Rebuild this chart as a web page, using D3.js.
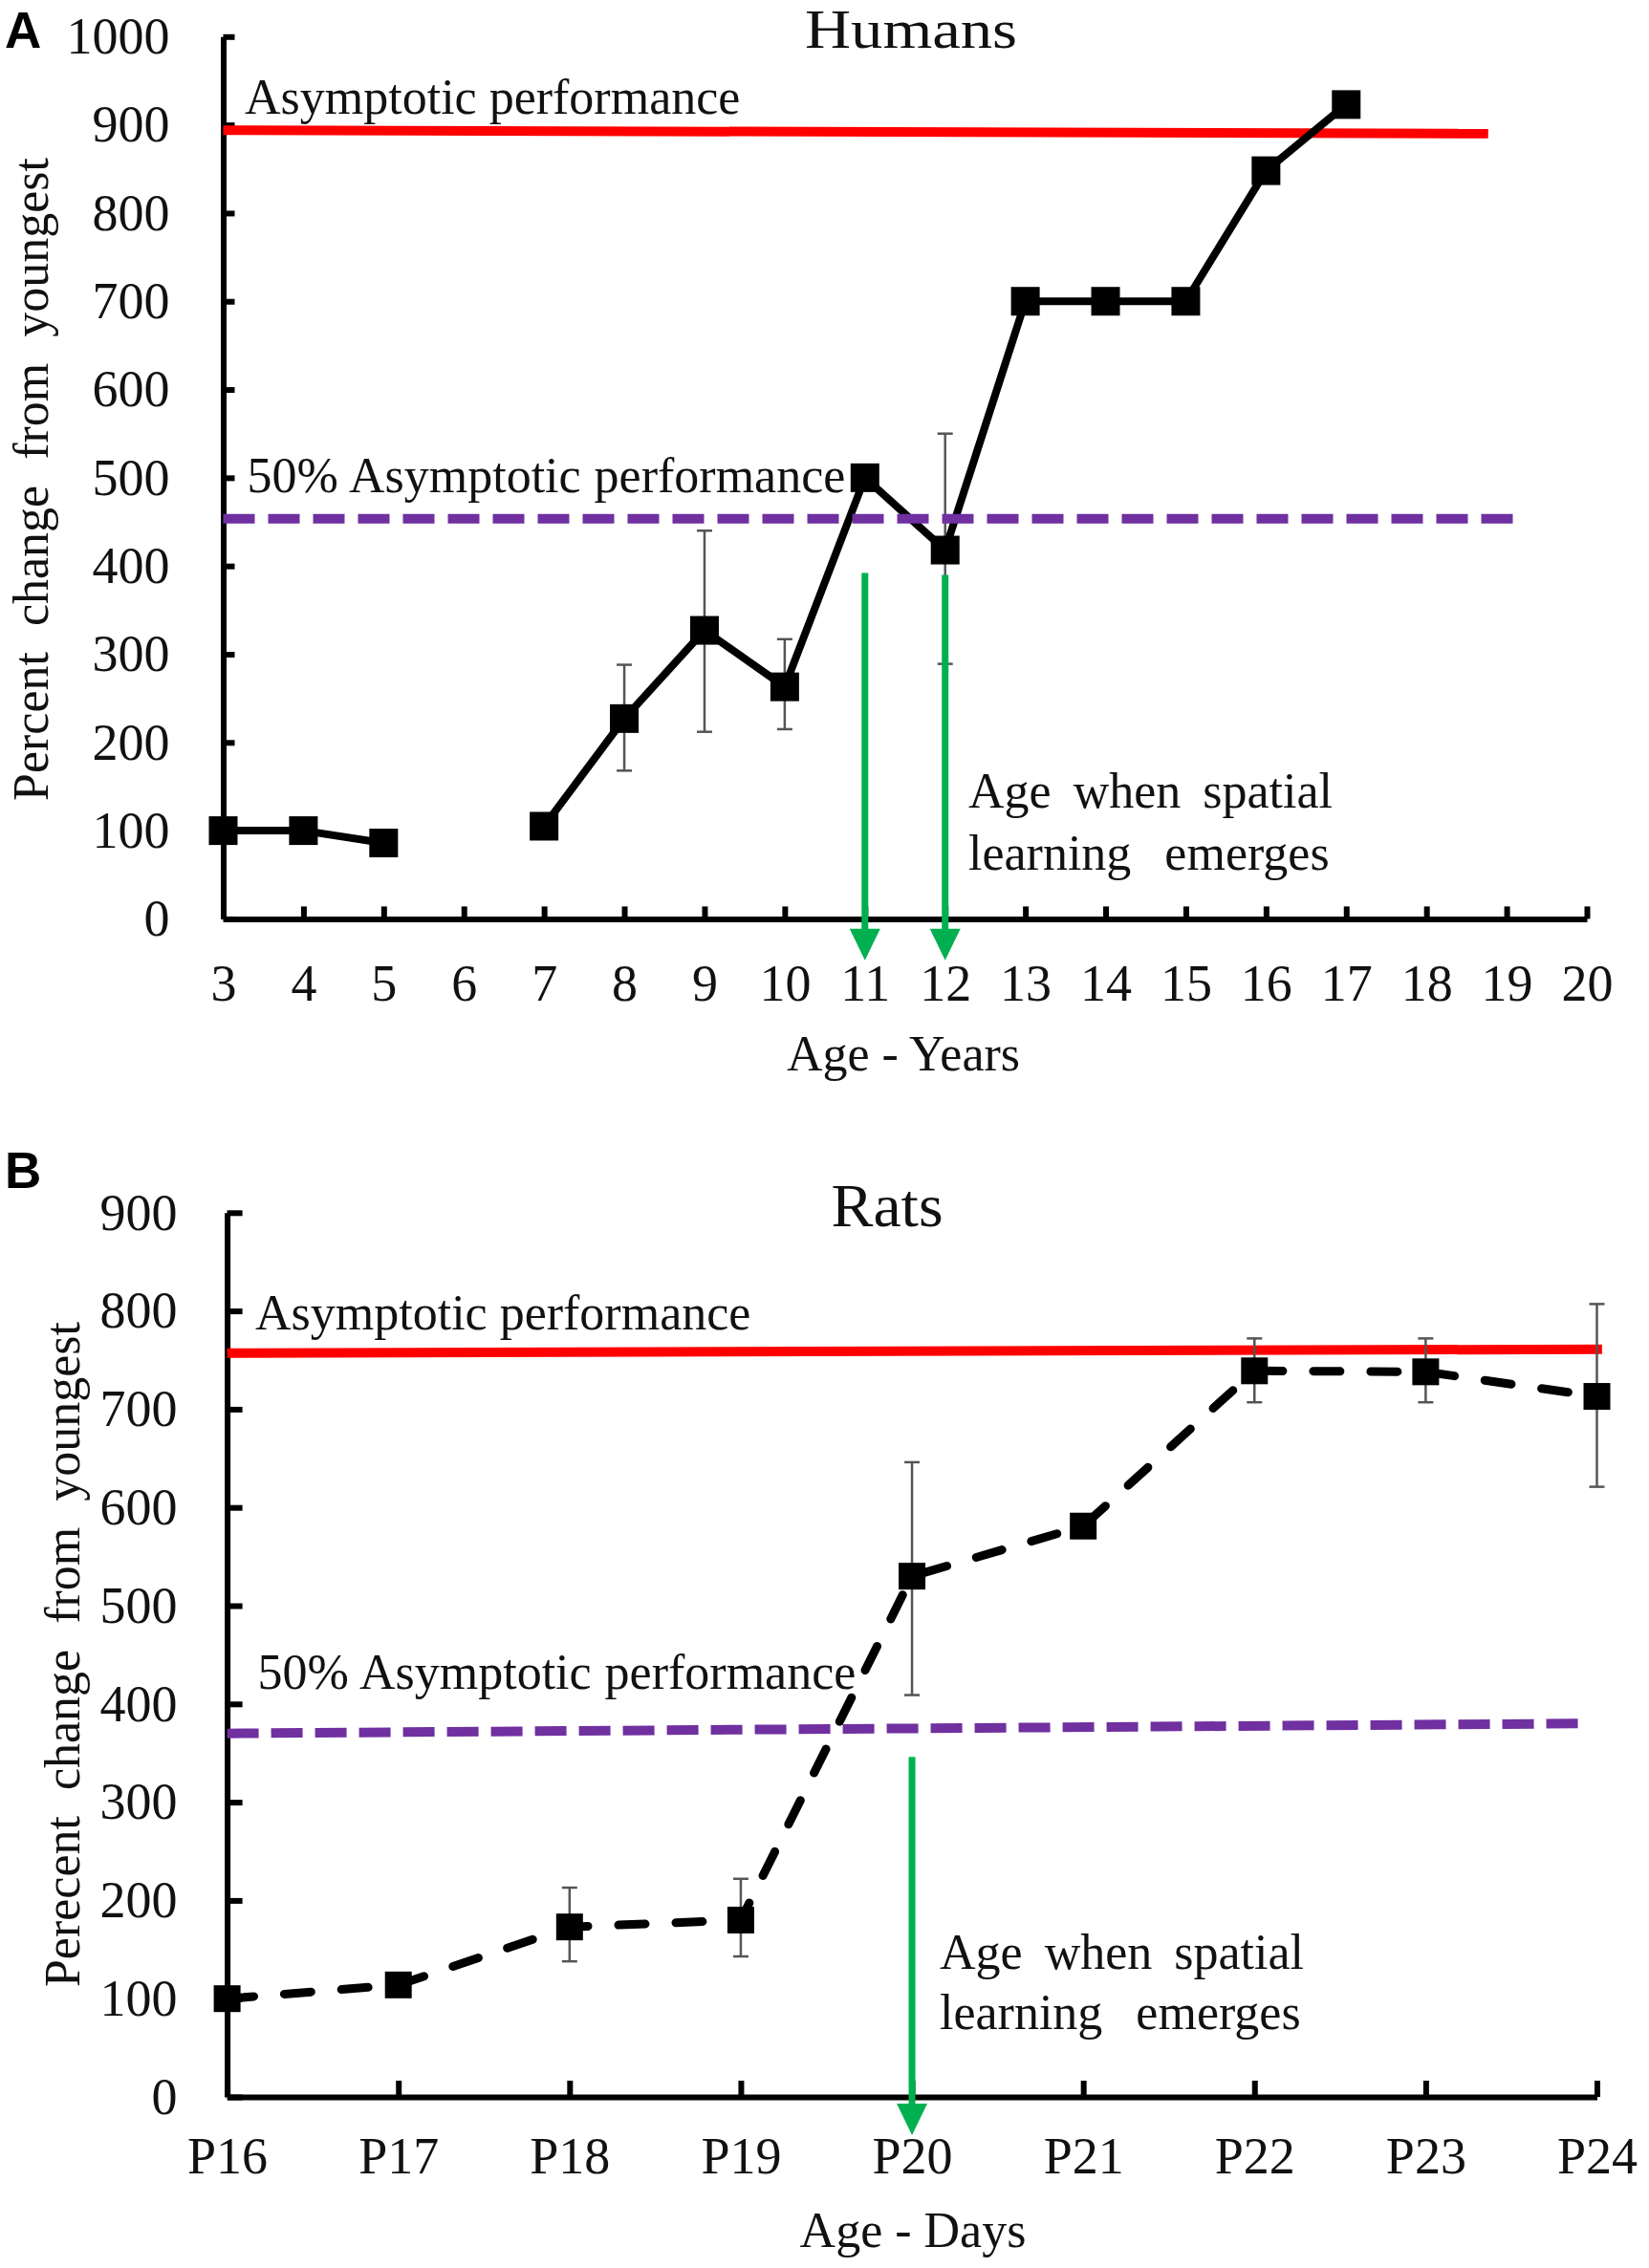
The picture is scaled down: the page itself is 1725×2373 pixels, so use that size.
<!DOCTYPE html>
<html>
<head>
<meta charset="utf-8">
<script src="https://cdn.jsdelivr.net/npm/d3@7"></script>
<style>
html,body{margin:0;padding:0;background:#fff;}
svg{display:block;}
text{font-family:"Liberation Serif","Times New Roman",serif;fill:#111;}
.panel{font-family:"Liberation Sans",Arial,sans-serif;font-weight:bold;fill:#000;}
</style>
</head>
<body>
<svg id="chart" width="1725" height="2373"></svg>
<script>
// ---------------- Data: Panel A (Humans) ----------------
const humanAges = [3,4,5,6,7,8,9,10,11,12,13,14,15,16,17];
const humanValues = [100,100,86,null,105,227,327,263,500,418,700,700,700,848,923];
const humanErrLow  = [null,null,null,null,null,168,212,215,null,289,null,null,null,null,null];
const humanErrHigh = [null,null,null,null,null,288,440,317,null,550,null,null,null,null,null];
const humanXTicks = [3,4,5,6,7,8,9,10,11,12,13,14,15,16,17,18,19,20];
const humanYTicks = [0,100,200,300,400,500,600,700,800,900,1000];
const humanAsymptote = [[3,894],[18.77,890]];
const humanHalfAsymptote = [[3,453.5],[19.14,453.5]];
const humanArrows = [[11,392,-47],[12,390,-47]];

// ---------------- Data: Panel B (Rats) ----------------
const ratDays = ["P16","P17","P18","P19","P20","P21","P22","P23","P24"];
const ratValues = [100,114,173,180,530,581,739,738,713];
const ratErrLow  = [null,null,138,143,409,570,707,707,621];
const ratErrHigh = [null,null,213,222,646,591,772,772,807];
const ratYTicks = [0,100,200,300,400,500,600,700,800,900];
const ratAsymptote = [[0,757],[8.03,761]];
const ratHalfAsymptote = [[0,370],[7.89,380]];
const ratArrows = [[4,346,-39]];

const RED = "#FF0000", PURPLE = "#7030A0", GREEN = "#00B050";
const FS = 52, TFS = 54;
const svg = d3.select("#chart");
svg.append("rect").attr("width",1725).attr("height",2373).attr("fill","#fff");

function styleAxis(g, fs){
  g.attr("font-family",null).attr("font-size",null);
  g.selectAll(".domain").attr("stroke","#000").attr("stroke-width",6);
  g.selectAll(".tick line").attr("stroke","#000").attr("stroke-width",6);
  g.selectAll(".tick text").attr("font-size",fs).attr("fill","#111")
    .style("font-family",'"Liberation Serif","Times New Roman",serif');
}

function arrow(g, x, y1, y2){
  const hw = 16, hl = 33;
  g.append("line").attr("x1",x).attr("x2",x).attr("y1",y1).attr("y2",y2-hl+2)
    .attr("stroke",GREEN).attr("stroke-width",7);
  g.append("path").attr("d",`M${x-hw},${y2-hl}L${x+hw},${y2-hl}L${x},${y2}Z`).attr("fill",GREEN);
}

// ================= Panel A =================
{
  const g = svg.append("g");
  const x = d3.scaleLinear().domain([3,20]).range([233.5,1660]);
  const y = d3.scaleLinear().domain([0,1000]).range([961.4,38.3]);

  g.append("text").attr("class","panel").attr("x",5).attr("y",49.7).attr("font-size",53).text("A");
  g.append("text").attr("x",953).attr("y",50).attr("text-anchor","middle").attr("font-size",56)
    .attr("textLength",222).attr("lengthAdjust","spacingAndGlyphs").text("Humans");

  const ya = g.append("g").attr("transform",`translate(${x(3)},0)`)
    .call(d3.axisLeft(y).tickValues(humanYTicks).tickSize(-12).tickSizeOuter(0).tickPadding(56).tickFormat(d3.format("d")));
  styleAxis(ya, TFS);
  const xa = g.append("g").attr("transform",`translate(0,${y(0)})`)
    .call(d3.axisBottom(x).tickValues(humanXTicks).tickSize(-13).tickSizeOuter(0).tickFormat(d3.format("d")));
  styleAxis(xa, TFS);
  xa.selectAll(".tick text").attr("dy",null).attr("y",86);

  const rl = d3.line().x(d=>x(d[0])).y(d=>y(d[1]));
  g.append("path").attr("d",rl(humanAsymptote)).attr("stroke",RED).attr("stroke-width",10).attr("fill","none");

  g.append("text").attr("x",256).attr("y",118.6).attr("font-size",FS).attr("word-spacing",0).text("Asymptotic performance");
  g.append("text").attr("x",258.5).attr("y",514.7).attr("font-size",FS).attr("word-spacing",1).text("50% Asymptotic performance");

  const eb = humanAges.map((a,i)=>({a, lo:humanErrLow[i], hi:humanErrHigh[i]})).filter(d=>d.lo!=null);
  eb.forEach(d=>{
    g.append("line").attr("x1",x(d.a)).attr("x2",x(d.a)).attr("y1",y(d.lo)).attr("y2",y(d.hi)).attr("stroke","#555").attr("stroke-width",2.5);
    [d.lo,d.hi].forEach(v=>g.append("line").attr("x1",x(d.a)-8).attr("x2",x(d.a)+8).attr("y1",y(v)).attr("y2",y(v)).attr("stroke","#555").attr("stroke-width",2.5));
  });

  const pts = humanAges.map((a,i)=>({a, v:humanValues[i]}));
  const line = d3.line().defined(d=>d.v!=null).x(d=>x(d.a)).y(d=>y(d.v));
  g.append("path").attr("d",line(pts)).attr("stroke","#000").attr("stroke-width",8).attr("fill","none").attr("stroke-linejoin","round");
  const ms = 30;
  g.selectAll("rect.m").data(pts.filter(d=>d.v!=null)).join("rect").attr("class","m")
    .attr("x",d=>x(d.a)-ms/2).attr("y",d=>y(d.v)-ms/2).attr("width",ms).attr("height",ms).attr("fill","#000");

  g.append("path").attr("d",rl(humanHalfAsymptote)).attr("stroke",PURPLE).attr("stroke-width",10).attr("fill","none").attr("stroke-dasharray","33,14");

  humanArrows.forEach(d=>arrow(g, x(d[0]), y(d[1]), y(d[2])));

  g.append("text").attr("x",1013).attr("y",844.7).attr("font-size",FS).attr("word-spacing",10).text("Age when spatial");
  g.append("text").attr("x",1013).attr("y",909.7).attr("font-size",FS).attr("word-spacing",22).text("learning emerges");

  g.append("text").attr("x",945).attr("y",1120).attr("text-anchor","middle").attr("font-size",FS).text("Age - Years");
  g.append("text").attr("transform","translate(49.5,501.5) rotate(-90)").attr("text-anchor","middle").attr("font-size",FS).attr("word-spacing",14).text("Percent change from youngest");
}

// ================= Panel B =================
{
  const g = svg.append("g");
  const x = d3.scaleLinear().domain([0,8]).range([237.6,1670.5]);
  const y = d3.scaleLinear().domain([0,900]).range([2194,1268.8]);

  g.append("text").attr("class","panel").attr("x",5).attr("y",1243).attr("font-size",53).text("B");
  g.append("text").attr("x",928).attr("y",1283).attr("text-anchor","middle").attr("font-size",64)
    .attr("textLength",117).attr("lengthAdjust","spacingAndGlyphs").text("Rats");

  const ya = g.append("g").attr("transform",`translate(${x(0)},0)`)
    .call(d3.axisLeft(y).tickValues(ratYTicks).tickSize(-16).tickSizeOuter(0).tickPadding(52).tickFormat(d3.format("d")));
  styleAxis(ya, TFS);
  const xa = g.append("g").attr("transform",`translate(0,${y(0)})`)
    .call(d3.axisBottom(x).tickValues(d3.range(ratDays.length)).tickSize(-17).tickSizeOuter(0).tickFormat(i=>ratDays[i]));
  styleAxis(xa, TFS);
  xa.selectAll(".tick text").attr("dy",null).attr("y",80);

  const rl = d3.line().x(d=>x(d[0])).y(d=>y(d[1]));
  g.append("path").attr("d",rl(ratAsymptote)).attr("stroke",RED).attr("stroke-width",10).attr("fill","none");

  g.append("text").attr("x",267).attr("y",1390.5).attr("font-size",FS).attr("word-spacing",0).text("Asymptotic performance");
  g.append("text").attr("x",269.5).attr("y",1767.4).attr("font-size",FS).attr("word-spacing",1).text("50% Asymptotic performance");

  const pts = ratDays.map((d,i)=>({i, v:ratValues[i], lo:ratErrLow[i], hi:ratErrHigh[i]}));
  pts.filter(d=>d.lo!=null).forEach(d=>{
    g.append("line").attr("x1",x(d.i)).attr("x2",x(d.i)).attr("y1",y(d.lo)).attr("y2",y(d.hi)).attr("stroke","#555").attr("stroke-width",2.5);
    [d.lo,d.hi].forEach(v=>g.append("line").attr("x1",x(d.i)-8).attr("x2",x(d.i)+8).attr("y1",y(v)).attr("y2",y(v)).attr("stroke","#555").attr("stroke-width",2.5));
  });

  g.append("path").attr("d",rl(ratHalfAsymptote)).attr("stroke",PURPLE).attr("stroke-width",10).attr("fill","none").attr("stroke-dasharray","33,13");

  const line = d3.line().x(d=>x(d.i)).y(d=>y(d.v));
  g.append("path").attr("d",line(pts)).attr("stroke","#000").attr("stroke-width",9).attr("fill","none")
    .attr("stroke-dasharray","28,32").attr("stroke-linecap","round");
  const ms = 28;
  g.selectAll("rect.m").data(pts).join("rect").attr("class","m")
    .attr("x",d=>x(d.i)-ms/2).attr("y",d=>y(d.v)-ms/2).attr("width",ms).attr("height",ms).attr("fill","#000");

  ratArrows.forEach(d=>arrow(g, x(d[0]), y(d[1]), y(d[2])));

  g.append("text").attr("x",983).attr("y",2060).attr("font-size",FS).attr("word-spacing",10).text("Age when spatial");
  g.append("text").attr("x",983).attr("y",2123).attr("font-size",FS).attr("word-spacing",22).text("learning emerges");

  g.append("text").attr("x",955).attr("y",2351).attr("text-anchor","middle").attr("font-size",FS).text("Age - Days");
  g.append("text").attr("transform","translate(82.5,1731) rotate(-90)").attr("text-anchor","middle").attr("font-size",FS).attr("word-spacing",14).text("Perecent change from youngest");
}
</script>
</body>
</html>
